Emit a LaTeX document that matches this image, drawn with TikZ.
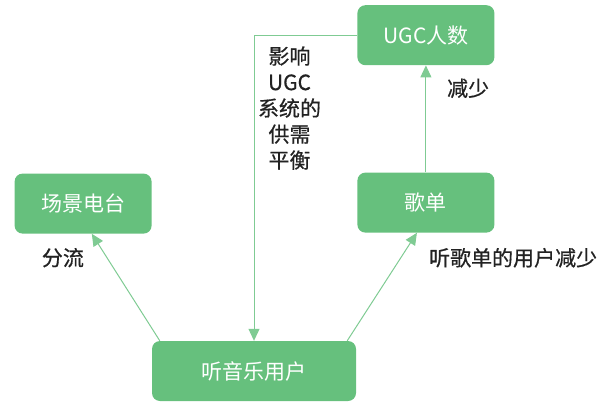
\documentclass[tikz,border=0pt]{standalone}
\usepackage{fontspec}
\setmainfont{Noto Sans CJK SC}
\newfontfamily\notefont[FakeBold=0.6]{Noto Sans CJK SC}
\usepackage{xcolor}
\usetikzlibrary{arrows.meta, positioning, calc}
\definecolor{boxgreen}{HTML}{66C07D}
\definecolor{linegreen}{HTML}{7FCB93}
\definecolor{txtdark}{HTML}{222222}
\tikzstyle{block} = [rectangle, minimum width=137pt, minimum height=60pt, text centered, fill=boxgreen, text=white, rounded corners=8pt, font=\fontsize{21}{26}\selectfont]
\tikzstyle{note} = [inner sep=0pt, text=txtdark, font=\notefont\fontsize{21}{26}\selectfont, align=center]
\tikzstyle{arrow} = [draw=linegreen, line width=1pt, -{Triangle[length=12pt,width=11pt]}, linegreen]

\begin{document}
\begin{tikzpicture}[x=1pt, y=1pt]
    \useasboundingbox (0,0) rectangle (612,-414);
    % Bottom
    \node (users) [block, minimum width=204pt] at (254,-371) {听音乐用户};

    % Middle row
    \node (radio) [block, above left=107pt and 0pt of users.north west, anchor=south east] {场景电台};
    \node (playlist) [block, above right=108pt and 1pt of users.north east, anchor=south west] {歌单};

    % Top
    \node (ugc) [block, above=107pt of playlist] {UGC人数};

    % Labels
    \node (split) [note, below left=14pt and -1pt of radio.south] {分流};
    \node (fewer) [note, below right=13pt and 21pt of ugc.south] {减少};
    \node (listeners) [note, below right=15pt and 3pt of playlist.south] {听歌单的用户减少};
    \node (balance) [note, below left=11pt and 36pt of ugc.west] {影响\\UGC\\系统的\\供需\\平衡};

    % Arrows
    \draw [arrow] ([xshift=8pt]users.north west) -- ([xshift=-60pt]radio.south east);
    \draw [arrow] ([xshift=-9pt]users.north east) -- ([xshift=-9pt]playlist.south);
    \draw [arrow] (playlist.north) -- (ugc.south);
    \draw [arrow] (ugc.west) -| (users.north);
\end{tikzpicture}
\end{document}
